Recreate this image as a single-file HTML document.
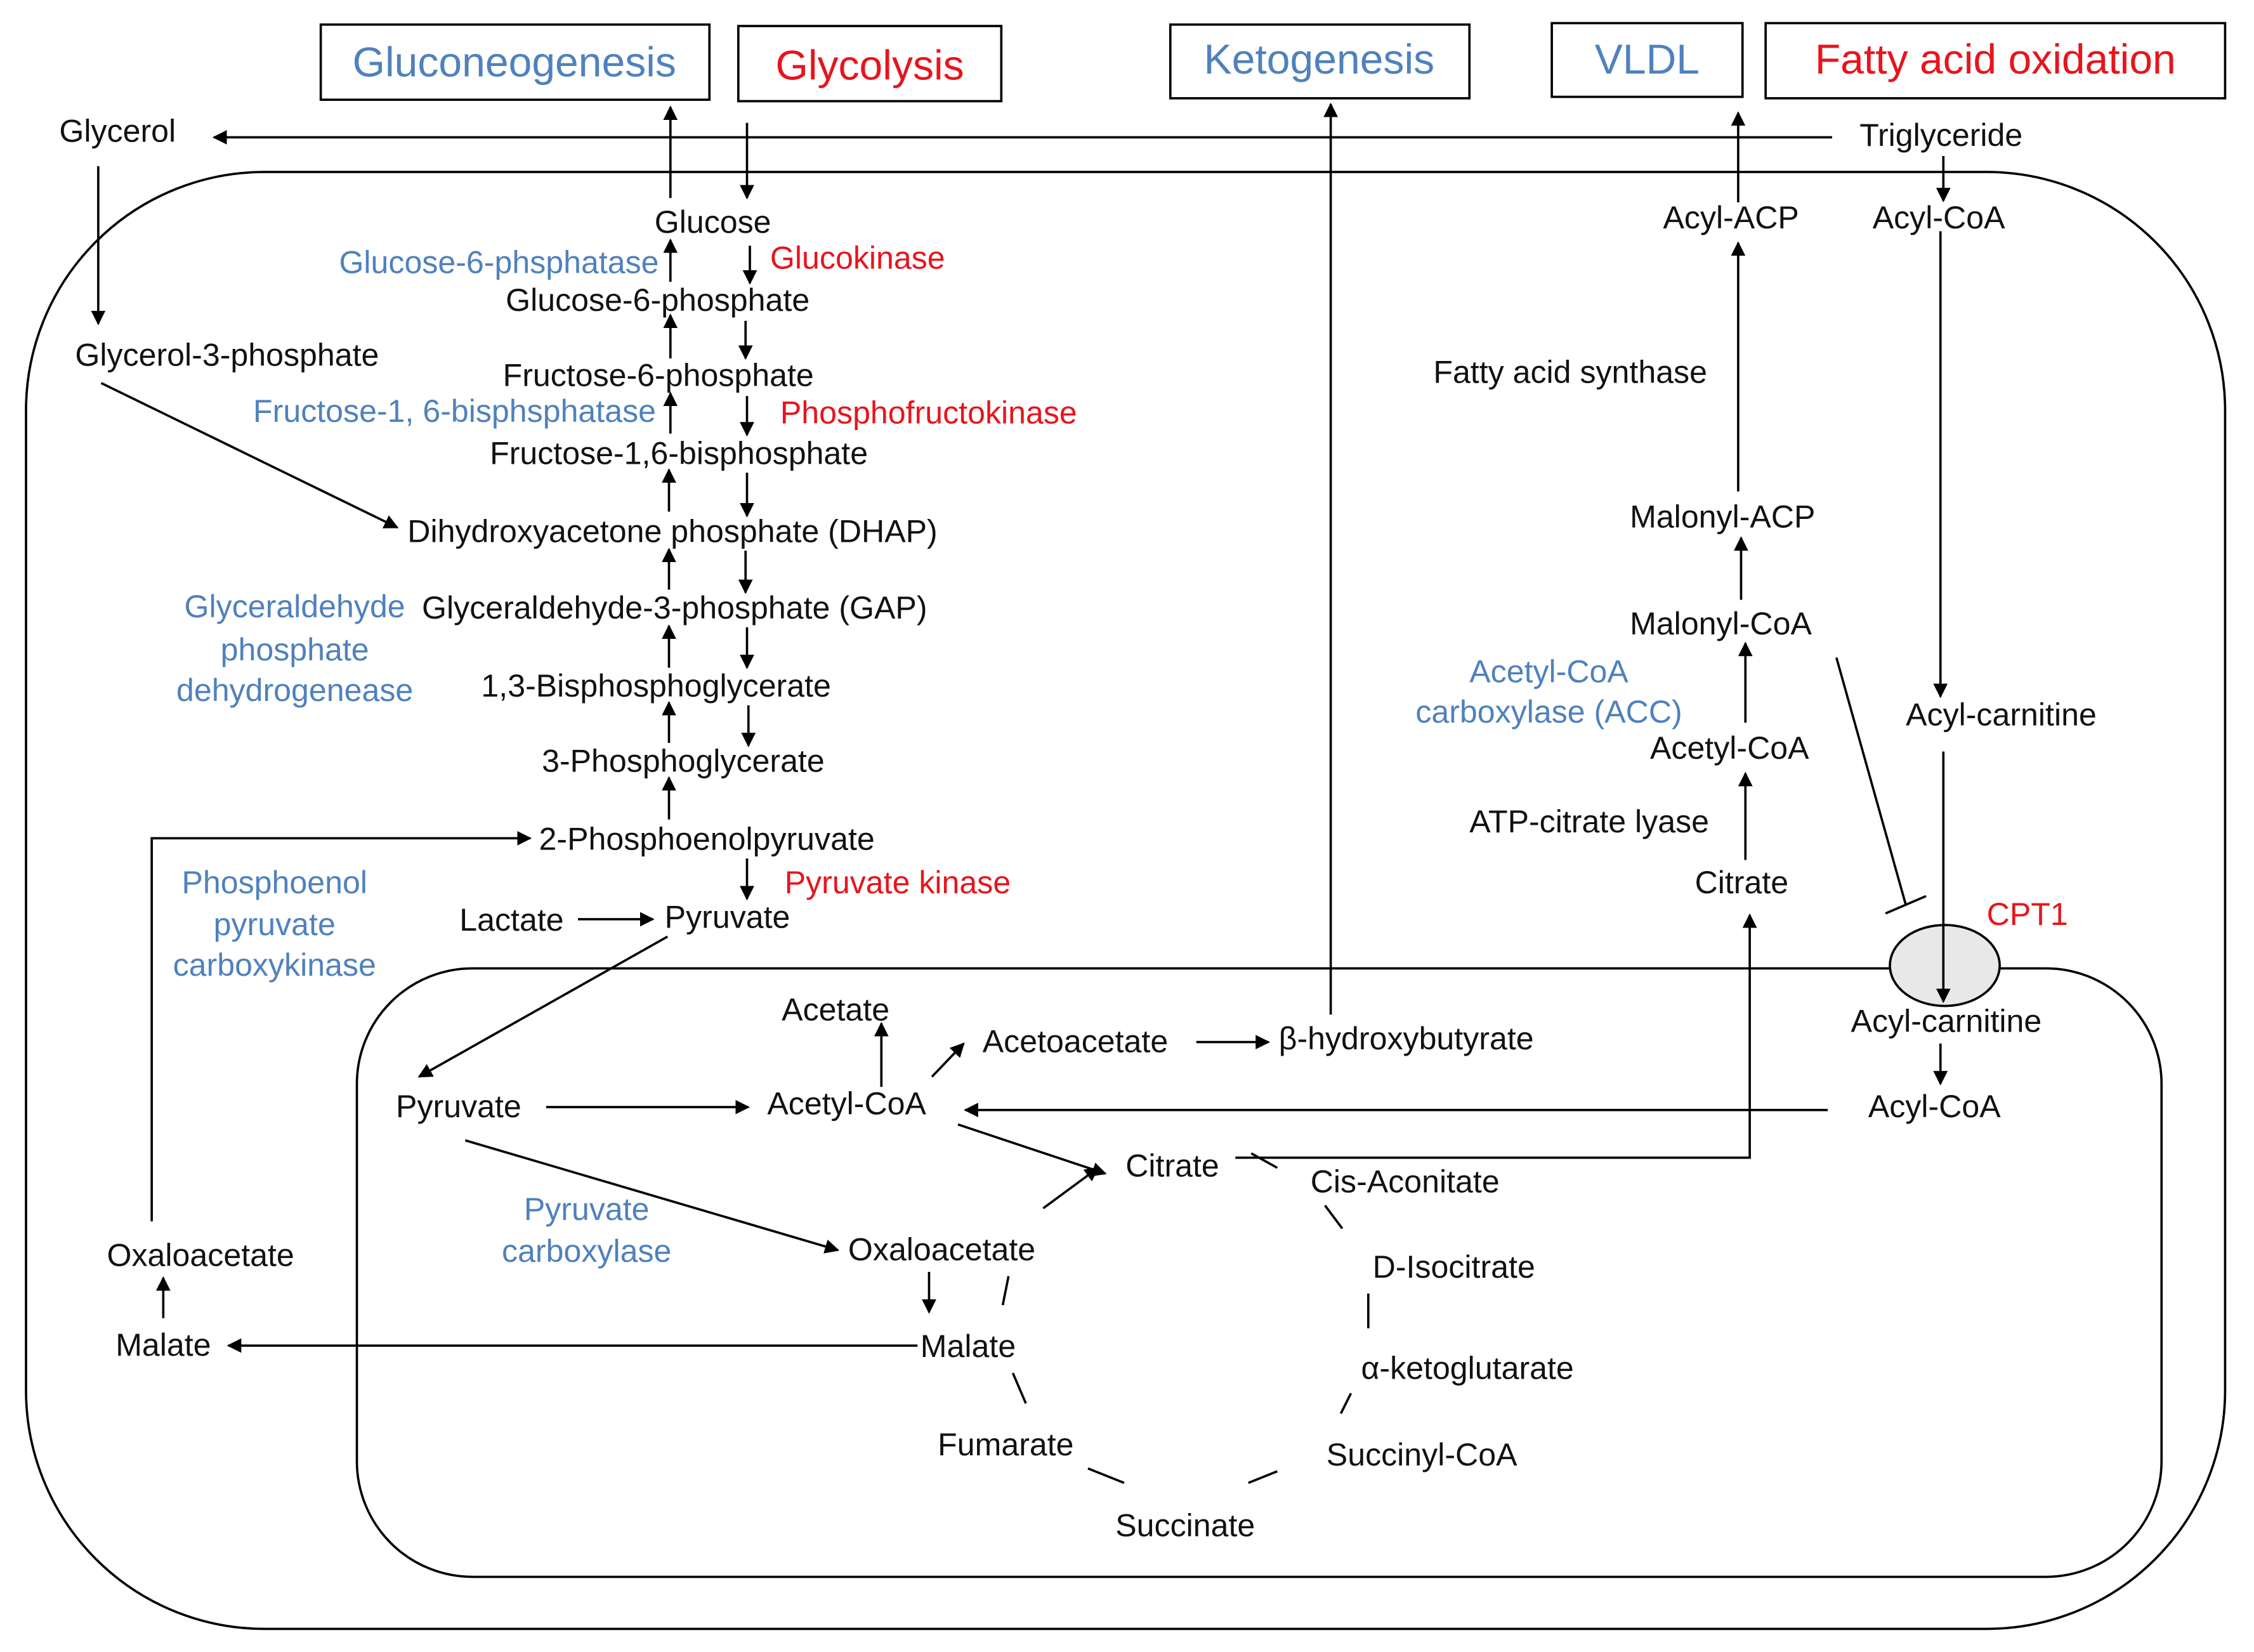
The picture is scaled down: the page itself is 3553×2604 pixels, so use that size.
<!DOCTYPE html>
<html><head><meta charset="utf-8"><style>
html,body{margin:0;padding:0;background:#fff}
svg{display:block}
text{font-family:"Liberation Sans",Arial,sans-serif;font-size:22px;fill:#111}
.b{fill:#4f81bd}.r{fill:#e8141c}
.h{font-size:29px}
</style></head><body>
<svg width="3553" height="2604" viewBox="0 0 1560 1143" preserveAspectRatio="none" xmlns="http://www.w3.org/2000/svg">
<defs><marker id="a" markerWidth="10" markerHeight="10" refX="9" refY="5" orient="auto" markerUnits="userSpaceOnUse"><path d="M0,0 L10,5 L0,10 z" fill="#000"/></marker></defs>
<g fill="none" stroke="#000" stroke-width="1.6">
<rect x="222" y="17" width="269" height="52"/>
<rect x="511" y="18" width="182" height="52"/>
<rect x="810" y="17" width="207" height="51"/>
<rect x="1074" y="16" width="132" height="51"/>
<rect x="1222" y="16" width="318" height="52"/>
<rect x="18" y="119" width="1522" height="1008" rx="165" ry="165"/>
<rect x="247" y="670" width="1249" height="421" rx="80" ry="80"/>
</g>
<g fill="none" stroke="#000" stroke-width="1.6" marker-end="url(#a)">
<line x1="1268" y1="95" x2="148" y2="95"/>
<line x1="68" y1="115" x2="68" y2="224"/>
<line x1="70" y1="265" x2="275" y2="365"/>
<line x1="464" y1="137" x2="464" y2="74"/>
<line x1="517" y1="85" x2="517" y2="137"/>
<line x1="464" y1="195" x2="464" y2="166"/>
<line x1="519" y1="170" x2="519" y2="196"/>
<line x1="464" y1="248" x2="464" y2="218"/>
<line x1="516" y1="222" x2="516" y2="248"/>
<line x1="464" y1="300" x2="464" y2="272"/>
<line x1="517" y1="274" x2="517" y2="301"/>
<line x1="463" y1="354" x2="463" y2="325"/>
<line x1="517" y1="327" x2="517" y2="357"/>
<line x1="463" y1="408" x2="463" y2="380"/>
<line x1="516" y1="381" x2="516" y2="410"/>
<line x1="463" y1="462" x2="463" y2="433"/>
<line x1="517" y1="434" x2="517" y2="462"/>
<line x1="463" y1="514" x2="463" y2="486"/>
<line x1="518" y1="488" x2="518" y2="516"/>
<line x1="463" y1="567" x2="463" y2="538"/>
<line x1="517" y1="594" x2="517" y2="622"/>
<polyline points="105,845 105,580 367,580"/>
<line x1="400" y1="636" x2="452" y2="636"/>
<line x1="462" y1="648" x2="290" y2="745"/>
<line x1="378" y1="766" x2="518" y2="766"/>
<line x1="610" y1="752" x2="610" y2="708"/>
<line x1="645" y1="745" x2="667" y2="722"/>
<line x1="828" y1="721" x2="878" y2="721"/>
<line x1="921" y1="702" x2="921" y2="72"/>
<line x1="1265" y1="768" x2="668" y2="768"/>
<line x1="663" y1="778" x2="765" y2="812"/>
<polyline points="855,801 1211,801 1211,633"/>
<line x1="322" y1="789" x2="580" y2="865"/>
<line x1="643" y1="880" x2="643" y2="908"/>
<line x1="635" y1="931" x2="158" y2="931"/>
<line x1="113" y1="912" x2="113" y2="884"/>
<line x1="722" y1="836" x2="760" y2="808"/>
<line x1="1345" y1="108" x2="1345" y2="139"/>
<line x1="1203" y1="140" x2="1203" y2="78"/>
<line x1="1203" y1="340" x2="1203" y2="168"/>
<line x1="1205" y1="415" x2="1205" y2="372"/>
<line x1="1208" y1="500" x2="1208" y2="445"/>
<line x1="1208" y1="595" x2="1208" y2="535"/>
<line x1="1343" y1="160" x2="1343" y2="482"/>
</g>
<ellipse cx="1346" cy="668" rx="38" ry="28" fill="#e8e8e8" stroke="#000" stroke-width="1.6"/>
<g fill="none" stroke="#000" stroke-width="1.6">
<line x1="1345" y1="520" x2="1345" y2="693" marker-end="url(#a)"/>
<line x1="1343" y1="722" x2="1343" y2="750" marker-end="url(#a)"/>
<line x1="1271" y1="455" x2="1319" y2="626"/>
<line x1="1305" y1="632" x2="1333" y2="620"/>
<line x1="866" y1="798" x2="884" y2="808"/>
<line x1="917" y1="834" x2="929" y2="850"/>
<line x1="947" y1="895" x2="947" y2="919"/>
<line x1="935" y1="964" x2="928" y2="978"/>
<line x1="884" y1="1018" x2="864" y2="1026"/>
<line x1="778" y1="1026" x2="753" y2="1016"/>
<line x1="710" y1="971" x2="701" y2="950"/>
<line x1="694" y1="903" x2="698" y2="883"/>
</g>
<text class="h b" x="356" y="53" text-anchor="middle">Gluconeogenesis</text>
<text class="h r" x="602" y="55" text-anchor="middle">Glycolysis</text>
<text class="h b" x="913" y="51" text-anchor="middle">Ketogenesis</text>
<text class="h b" x="1140" y="51" text-anchor="middle">VLDL</text>
<text class="h r" x="1381" y="51" text-anchor="middle">Fatty acid oxidation</text>
<text x="41" y="98">Glycerol</text>
<text x="1287" y="101">Triglyceride</text>
<text x="52" y="253">Glycerol-3-phosphate</text>
<text x="453" y="161">Glucose</text>
<text class="b" x="456" y="189" text-anchor="end">Glucose-6-phsphatase</text>
<text class="r" x="533" y="186">Glucokinase</text>
<text x="350" y="215">Glucose-6-phosphate</text>
<text x="348" y="267">Fructose-6-phosphate</text>
<text class="b" x="454" y="292" text-anchor="end">Fructose-1, 6-bisphsphatase</text>
<text class="r" x="540" y="293">Phosphofructokinase</text>
<text x="339" y="321">Fructose-1,6-bisphosphate</text>
<text x="282" y="375">Dihydroxyacetone phosphate (DHAP)</text>
<text x="292" y="428">Glyceraldehyde-3-phosphate  (GAP)</text>
<text class="b" x="204" y="427" text-anchor="middle">Glyceraldehyde</text>
<text class="b" x="204" y="457" text-anchor="middle">phosphate</text>
<text class="b" x="204" y="485" text-anchor="middle">dehydrogenease</text>
<text x="333" y="482">1,3-Bisphosphoglycerate</text>
<text x="375" y="534">3-Phosphoglycerate</text>
<text x="373" y="588">2-Phosphoenolpyruvate</text>
<text class="r" x="543" y="618">Pyruvate kinase</text>
<text x="318" y="644">Lactate</text>
<text x="460" y="642">Pyruvate</text>
<text class="b" x="190" y="618" text-anchor="middle">Phosphoenol</text>
<text class="b" x="190" y="647" text-anchor="middle">pyruvate</text>
<text class="b" x="190" y="675" text-anchor="middle">carboxykinase</text>
<text x="274" y="773">Pyruvate</text>
<text x="531" y="771">Acetyl-CoA</text>
<text x="541" y="706">Acetate</text>
<text x="680" y="728">Acetoacetate</text>
<text x="885" y="726">β-hydroxybutyrate</text>
<text x="779" y="814">Citrate</text>
<text x="907" y="825">Cis-Aconitate</text>
<text x="950" y="884">D-Isocitrate</text>
<text x="942" y="954">α-ketoglutarate</text>
<text x="918" y="1014">Succinyl-CoA</text>
<text x="772" y="1063">Succinate</text>
<text x="649" y="1007">Fumarate</text>
<text x="637" y="939">Malate</text>
<text x="587" y="872">Oxaloacetate</text>
<text class="b" x="406" y="844" text-anchor="middle">Pyruvate</text>
<text class="b" x="406" y="873" text-anchor="middle">carboxylase</text>
<text x="80" y="938">Malate</text>
<text x="74" y="876">Oxaloacetate</text>
<text x="1151" y="158">Acyl-ACP</text>
<text x="1296" y="158">Acyl-CoA</text>
<text x="992" y="265">Fatty acid synthase</text>
<text x="1128" y="365">Malonyl-ACP</text>
<text x="1128" y="439">Malonyl-CoA</text>
<text class="b" x="1072" y="472" text-anchor="middle">Acetyl-CoA</text>
<text class="b" x="1072" y="500" text-anchor="middle">carboxylase (ACC)</text>
<text x="1142" y="525">Acetyl-CoA</text>
<text x="1017" y="576">ATP-citrate lyase</text>
<text x="1173" y="618">Citrate</text>
<text x="1319" y="502">Acyl-carnitine</text>
<text class="r" x="1375" y="640">CPT1</text>
<text x="1281" y="714">Acyl-carnitine</text>
<text x="1293" y="773">Acyl-CoA</text>
</svg>
</body></html>
